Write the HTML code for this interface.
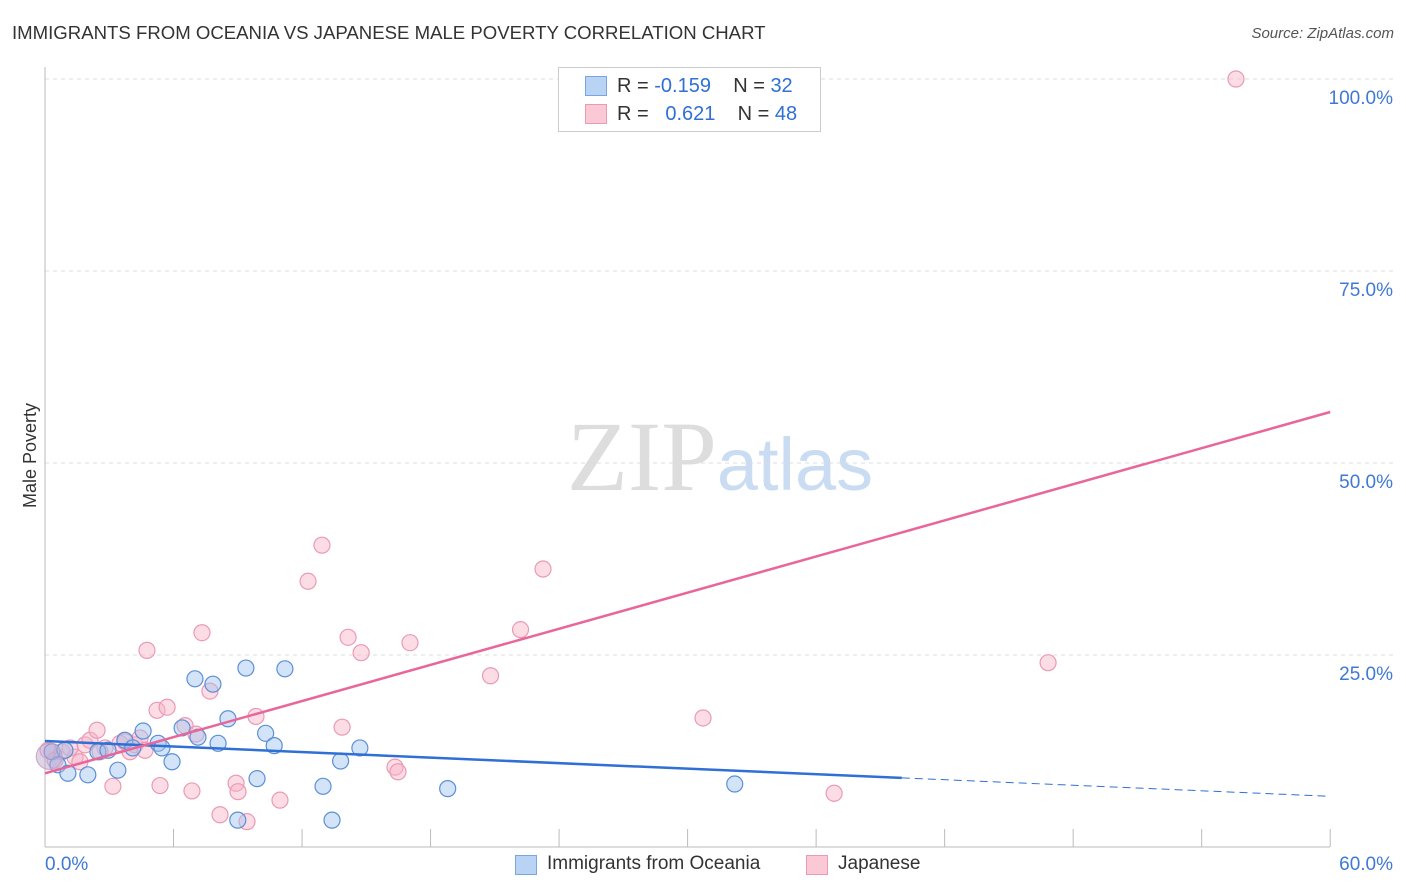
<!DOCTYPE html>
<html><head><meta charset="utf-8"><style>
body{margin:0;background:#fff;font-family:"Liberation Sans",sans-serif;}
#wrap{position:relative;width:1406px;height:892px;overflow:hidden;}
.t{position:absolute;white-space:nowrap;}
</style></head><body>
<div id="wrap">
<div class="t" style="left:12px;top:22px;font-size:18.6px;color:#333;">IMMIGRANTS FROM OCEANIA VS JAPANESE MALE POVERTY CORRELATION CHART</div>
<div class="t" style="right:12px;top:25px;font-size:15px;color:#555;font-style:italic;">Source: ZipAtlas.com</div>
<svg id="svg" width="1406" height="892" style="position:absolute;left:0;top:0">
<text x="720" y="490" text-anchor="middle" font-family="Liberation Serif" font-size="100" fill="#ddd">ZIP<tspan font-family="Liberation Sans" fill="#c9dcf2" font-size="74">atlas</tspan></text>
</svg>
<div class="t" style="left:-22px;top:445px;font-size:18px;color:#333;transform:rotate(-90deg);">Male Poverty</div>
<div style="position:absolute;left:558px;top:67px;width:261px;height:63px;border:1px solid #ccc;background:#fff;font-size:20px;color:#333;">
 <div style="position:absolute;left:26px;top:8px;width:20px;height:18px;background:#b9d3f5;border:1px solid #7aa6e0"></div>
 <div class="t" style="left:58px;top:7px">R = <span style="color:#2f6fd6">-0.159</span>&nbsp;&nbsp;&nbsp; N = <span style="color:#2f6fd6">32</span></div>
 <div style="position:absolute;left:26px;top:36px;width:20px;height:18px;background:#fbc8d6;border:1px solid #eb9ab4"></div>
 <div class="t" style="left:58px;top:35px">R = &nbsp;&nbsp;<span style="color:#2f6fd6">0.621</span>&nbsp;&nbsp;&nbsp; N = <span style="color:#2f6fd6">48</span></div>
</div>
<div style="position:absolute;left:515px;top:853px;font-size:19px;color:#333;">
 <div style="position:absolute;left:0;top:2px;width:20px;height:18px;background:#b9d3f5;border:1px solid #7aa6e0"></div>
 <div class="t" style="left:32px;top:0">Immigrants from Oceania</div>
 <div style="position:absolute;left:291px;top:2px;width:20px;height:18px;background:#fbc8d6;border:1px solid #eb9ab4"></div>
 <div class="t" style="left:323px;top:0">Japanese</div>
</div>
</div>
<script>
const yTicks=[25,50,75,100];
const yTickLabels=["25.0%","50.0%","75.0%","100.0%"];
const blueX=[0.33,0.6,1.07,2.0,2.47,2.94,3.4,3.73,4.1,4.58,5.28,5.46,5.93,6.4,7.0,7.14,7.84,8.08,8.54,9.0,9.38,9.9,10.3,10.7,11.2,12.98,13.4,13.8,14.7,18.8,32.2,0.93];
const blueY=[12.4,10.7,9.6,9.4,12.4,12.6,10.0,13.9,12.9,15.1,13.5,12.9,11.1,15.5,21.9,14.3,21.2,13.5,16.7,3.5,23.3,8.9,14.8,13.2,23.2,7.9,3.5,11.2,12.9,7.6,8.2,12.6];
const pinkX=[0.14,0.47,0.79,1.4,1.87,2.1,2.43,2.8,3.17,3.5,3.97,4.2,4.44,4.67,4.76,5.23,5.37,5.7,6.54,6.86,7.05,7.33,7.7,8.17,8.92,9.01,9.43,9.85,10.97,12.28,12.93,13.87,14.15,14.76,16.34,16.48,17.04,20.8,22.2,23.25,30.72,36.84,46.83,55.6,1.17,3.73,1.63,2.57];
const pinkY=[12.6,11.3,12.4,11.7,13.3,13.9,15.2,12.9,7.9,13.5,12.4,13.3,14.2,12.6,25.6,17.8,8.0,18.2,15.8,7.3,14.7,27.9,20.3,4.2,8.3,7.2,3.3,17.0,6.1,34.6,39.3,15.6,27.3,25.3,10.4,9.8,26.6,22.3,28.3,36.2,16.8,7.0,24.0,100,12.9,13.7,11.1,12.4];
const blueFit=[13.8,-0.12];
const pinkFit=[9.6,0.784];
const X=v=>45+v*21.42, Y=v=>847-v*7.68;
const svg=document.getElementById('svg'),NS='http://www.w3.org/2000/svg';
function mk(t,a){const e=document.createElementNS(NS,t);for(const k in a)e.setAttribute(k,a[k]);svg.appendChild(e);return e;}
yTicks.forEach((v,i)=>{
 const g=mk('line',{x1:45,x2:1395,y1:Y(v),y2:Y(v),stroke:'#ddd','stroke-dasharray':'4,4'});
 
 
 const t=mk('text',{x:1393,y:Y(v)+25,'text-anchor':'end','font-size':19,fill:'#3f79d4','font-family':'Liberation Sans'});
 t.textContent=yTickLabels[i];
 
 
});
const ax=mk('line',{x1:45,x2:45,y1:67,y2:847,stroke:'#bbb'});


const bx=mk('line',{x1:45,x2:1330,y1:847,y2:847,stroke:'#bbb'});


for(let i=0;i<=10;i++){const l=mk('line',{x1:X(i*6),x2:X(i*6),y1:829,y2:847,stroke:'#bbb'});
 
 }
[['0.0%',45,'start'],['60.0%',1393,'end']].forEach(a=>{const t=mk('text',{x:a[1],y:870,'text-anchor':a[2],'font-size':19,fill:'#3f79d4','font-family':'Liberation Sans'});t.textContent=a[0];
 
 });
function pts(xs,ys,fill,stroke,name){xs.forEach((x,i)=>{const c=mk('circle',{cx:X(x),cy:Y(ys[i]),r:8,fill:fill,stroke:stroke,'stroke-width':1.2});
 
 });}
pts(pinkX,pinkY,'rgba(248,180,200,0.45)','#eb9ab4','japanese-point');
pts(blueX,blueY,'rgba(160,196,240,0.45)','#5b8fd8','oceania-point');
const big=mk('circle',{cx:X(0.2),cy:Y(11.8),r:13,fill:'rgba(190,170,210,0.5)',stroke:'#c9a0c0'});


const bl=mk('line',{x1:X(0),y1:Y(blueFit[0]),x2:X(40),y2:Y(blueFit[0]+blueFit[1]*40),stroke:'#2f6fd6','stroke-width':2.5});


const bd=mk('line',{x1:X(40),y1:Y(blueFit[0]+blueFit[1]*40),x2:X(60),y2:Y(blueFit[0]+blueFit[1]*60),stroke:'#2f6fd6','stroke-width':1,'stroke-dasharray':'8,5'});


const pl=mk('line',{x1:X(0),y1:Y(pinkFit[0]),x2:X(60),y2:Y(pinkFit[0]+pinkFit[1]*60),stroke:'#e8669a','stroke-width':2.5});


</script>
</body></html>
